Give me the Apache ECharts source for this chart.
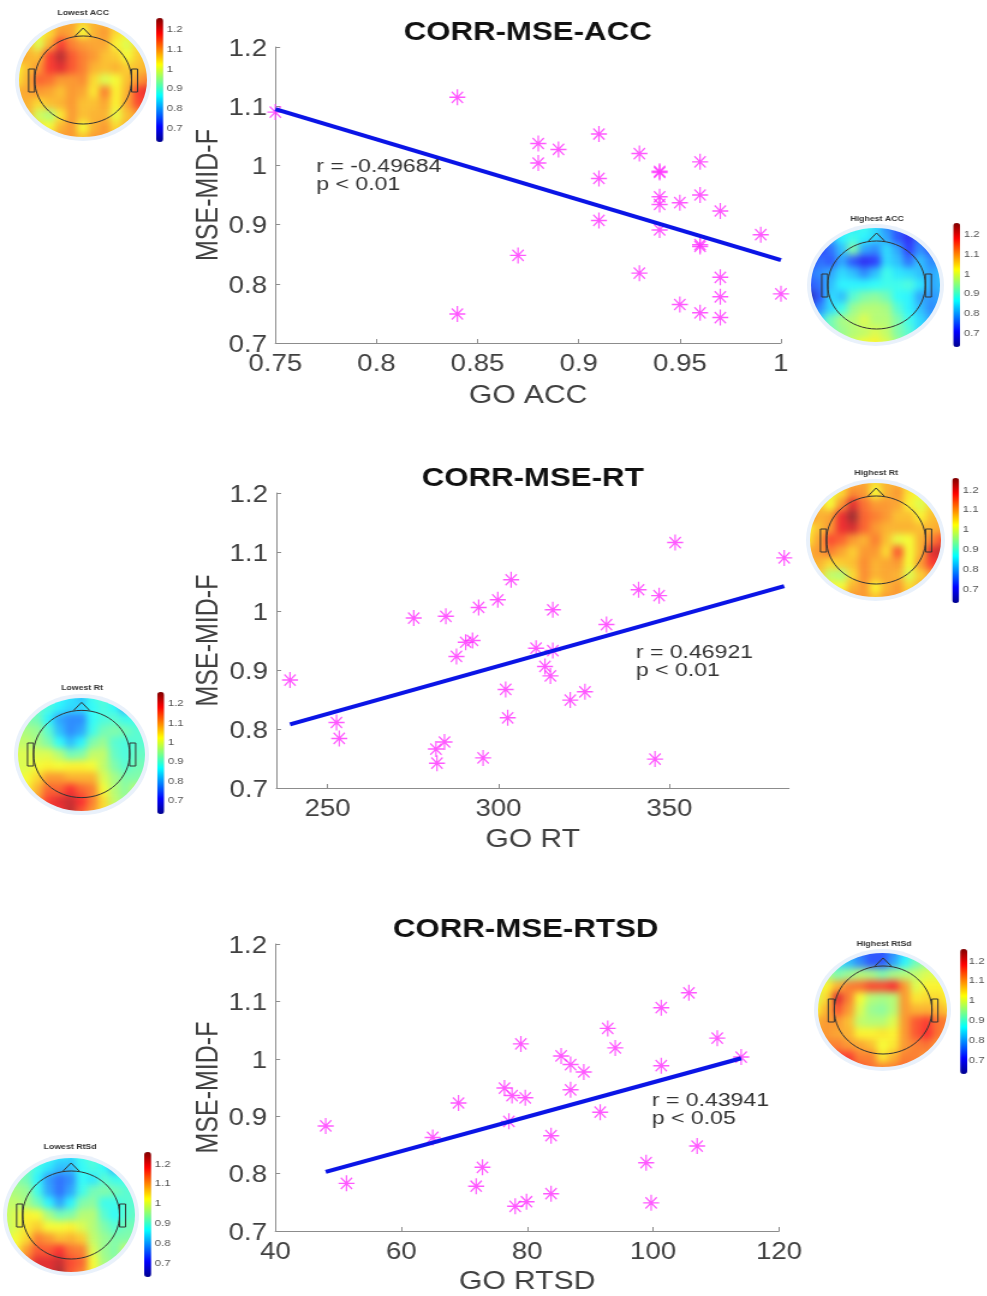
<!DOCTYPE html>
<html>
<head>
<meta charset="utf-8">
<script src="https://cdn.jsdelivr.net/npm/echarts@6/dist/echarts.min.js"></script>
<style>
  html, body { margin: 0; padding: 0; background: #fff; overflow: hidden; }
  body { width: 987px; height: 1296px; position: relative; }
  #main { position: absolute; left: 0; top: 0; height: 1296px; transform-origin: 0 0; z-index: 2; filter: blur(0.45px); }
  .halo { position: absolute; border-radius: 50%; background: #e9f1fb; z-index: 1; }
  .clip { position: absolute; left: 4px; top: 4px; right: 4px; bottom: 4px; border-radius: 50%; overflow: hidden; }
  .topo { position: absolute; left: -8px; top: -8px; right: -8px; bottom: -8px; filter: blur(3.5px); opacity: 0.8; }
</style>
</head>
<body>
<div id="main"></div>
<script>
// the reference is stretched sideways, so the chart canvas is too
const SX = 1.2
const px = x => x / SX

// same MSE values in all three panels
const accX = [0.75, 0.84, 0.88, 0.88, 0.89, 0.91, 0.91, 0.91, 0.87, 0.84, 0.93, 0.93, 0.94, 0.94, 0.94, 0.94, 0.94, 0.95, 0.95, 0.96, 0.96, 0.96, 0.96, 0.96, 0.97, 0.97, 0.97, 0.97, 0.99, 1.0]
const accY = [1.09, 1.115, 1.037, 1.004, 1.027, 1.053, 0.978, 0.907, 0.848, 0.749, 1.02, 0.818, 0.99, 0.988, 0.947, 0.934, 0.891, 0.937, 0.765, 1.006, 0.95, 0.866, 0.863, 0.751, 0.923, 0.811, 0.778, 0.743, 0.883, 0.783]
const accFitX = [0.75, 1.0]
const accFitY = [1.095, 0.84]

const rtX = [239, 252.6, 253.4, 275.2, 284.6, 287.7, 290.4, 292.4, 294.2, 295.5, 299.8, 303.7, 302.1, 302.7, 311, 313.6, 315.2, 315.9, 315.9, 321, 325.3, 331.6, 341, 345.8, 347, 351.7, 383.6, 281.7, 284.2, 282]
const rtY = [0.883, 0.811, 0.784, 0.988, 0.991, 0.923, 0.947, 0.95, 1.006, 0.751, 1.019, 1.053, 0.867, 0.819, 0.937, 0.906, 0.89, 0.933, 1.002, 0.849, 0.863, 0.977, 1.036, 0.749, 1.026, 1.116, 1.09, 0.766, 0.778, 0.742]
const rtFitX = [239, 383.6]
const rtFitY = [0.808, 1.042]

const rtsdX = [48, 51.3, 65, 69.1, 71.9, 72.9, 76.4, 77.1, 77.6, 78.1, 79, 79.7, 79.9, 83.8, 83.8, 85.4, 86.9, 86.9, 89, 91.6, 92.8, 94, 98.9, 99.7, 101.3, 101.3, 105.7, 107, 110.2, 114]
const rtsdY = [0.883, 0.783, 0.863, 0.923, 0.778, 0.811, 0.949, 0.891, 0.936, 0.743, 1.026, 0.932, 0.751, 0.866, 0.765, 1.005, 0.99, 0.946, 0.977, 0.907, 1.053, 1.019, 0.819, 0.749, 0.988, 1.089, 1.115, 0.848, 1.036, 1.003]
const rtsdFitX = [48, 114]
const rtsdFitY = [0.803, 1.001]

const accTicks = [0.75, 0.8, 0.85, 0.9, 0.95, 1]
const rtTicks = [250, 300, 350]
const rtsdTicks = [40, 60, 80, 100, 120]

// scalp maps, 13 columns by 11 rows, top row first
const lowestAcc = [
  [1.07,1.07,1.06,1.07,1.08,1.09,1.06,1.08,1.08,1.07,1.05,1.05,1.05],
  [1.08,1.07,1.02,1.05,1.10,1.09,1.02,1.08,1.10,1.05,1.03,1.05,1.06],
  [1.09,1.07,1.00,1.08,1.17,1.12,1.10,1.09,1.09,1.03,1.00,1.05,1.07],
  [1.12,1.08,1.07,1.17,1.23,1.15,1.12,1.10,1.07,1.06,1.02,1.06,1.08],
  [1.03,1.07,1.10,1.17,1.20,1.15,1.12,1.08,1.07,1.08,1.06,1.07,1.08],
  [1.04,1.08,1.14,1.13,1.10,1.10,1.11,1.05,1.00,1.02,1.07,1.10,1.12],
  [1.08,1.09,1.10,1.09,1.07,1.10,1.09,1.04,1.12,1.03,1.08,1.17,1.20],
  [1.09,1.08,1.05,1.07,1.08,1.10,1.07,1.07,1.09,1.03,1.09,1.16,1.17],
  [1.09,1.08,0.99,0.97,1.04,1.10,1.07,1.08,1.08,1.01,1.07,1.10,1.10],
  [1.08,1.08,1.04,1.02,1.08,1.10,1.02,1.08,1.10,1.05,1.08,1.08,1.08],
  [1.07,1.08,1.08,1.09,1.10,1.10,1.07,1.10,1.10,1.08,1.08,1.08,1.08]
]
const highestAcc = [
  [0.80,0.80,0.80,0.85,0.85,0.88,0.84,0.78,0.74,0.74,0.72,0.74,0.75],
  [0.74,0.74,0.80,0.86,0.88,0.86,0.84,0.80,0.74,0.70,0.76,0.72,0.74],
  [0.72,0.72,0.76,0.82,0.93,0.80,0.78,0.84,0.80,0.72,0.78,0.74,0.76],
  [0.72,0.76,0.74,0.80,0.74,0.70,0.72,0.84,0.82,0.76,0.82,0.78,0.78],
  [0.76,0.78,0.80,0.84,0.82,0.78,0.82,0.88,0.85,0.84,0.82,0.80,0.82],
  [0.74,0.76,0.82,0.86,0.86,0.86,0.87,0.88,0.88,0.89,0.85,0.80,0.82],
  [0.64,0.74,0.84,0.82,0.90,0.93,0.94,0.92,0.87,0.86,0.80,0.79,0.80],
  [0.72,0.78,0.84,0.88,0.95,0.97,0.97,0.96,0.90,0.86,0.82,0.78,0.80],
  [0.78,0.84,0.92,0.96,0.97,1.00,0.97,0.97,0.93,0.88,0.84,0.80,0.82],
  [0.82,0.86,0.92,0.95,0.97,0.98,1.00,0.98,0.93,0.90,0.84,0.84,0.84],
  [0.85,0.88,0.92,0.96,0.99,1.02,1.03,1.00,0.96,0.90,0.86,0.86,0.86]
]
const highestRt = [
  [1.06,1.07,1.06,1.07,1.08,1.09,1.05,1.08,1.08,1.06,1.05,1.05,1.05],
  [1.08,1.06,1.01,1.05,1.11,1.10,1.02,1.08,1.10,1.04,1.02,1.05,1.06],
  [1.12,1.07,1.02,1.10,1.20,1.13,1.10,1.10,1.09,1.03,1.00,1.05,1.07],
  [1.14,1.08,1.09,1.19,1.25,1.14,1.12,1.10,1.07,1.07,1.03,1.07,1.08],
  [1.03,1.07,1.10,1.19,1.21,1.14,1.10,1.08,1.08,1.08,1.07,1.08,1.09],
  [1.04,1.09,1.16,1.14,1.10,1.08,1.12,1.07,1.01,1.02,1.08,1.12,1.16],
  [1.08,1.10,1.12,1.09,1.06,1.10,1.10,1.05,1.15,1.02,1.08,1.20,1.23],
  [1.09,1.08,1.05,1.06,1.07,1.11,1.08,1.09,1.10,1.02,1.10,1.17,1.19],
  [1.09,1.06,0.98,0.97,1.05,1.11,1.08,1.09,1.08,1.00,1.06,1.10,1.11],
  [1.09,1.08,1.03,1.02,1.08,1.10,1.03,1.08,1.10,1.05,1.08,1.09,1.09],
  [1.08,1.09,1.09,1.10,1.11,1.10,1.07,1.10,1.10,1.08,1.09,1.09,1.09]
]
const lowestRt = [
  [0.92,0.92,0.91,0.90,0.87,0.85,0.82,0.88,0.90,0.88,0.85,0.88,0.90],
  [0.93,0.92,0.90,0.89,0.86,0.84,0.84,0.87,0.89,0.87,0.80,0.85,0.88],
  [0.95,0.93,0.92,0.86,0.80,0.78,0.78,0.87,0.89,0.90,0.88,0.88,0.90],
  [0.97,0.96,0.95,0.90,0.82,0.78,0.80,0.88,0.92,0.93,0.92,0.90,0.90],
  [0.98,0.98,0.96,0.93,0.87,0.82,0.86,0.93,0.95,0.90,0.89,0.90,0.90],
  [1.00,1.00,1.00,1.00,0.97,0.92,0.93,0.98,0.98,0.91,0.89,0.91,0.91],
  [1.00,1.00,1.02,1.03,1.02,1.03,1.03,1.02,0.98,0.93,0.90,0.92,0.92],
  [1.00,1.02,1.05,1.10,1.10,1.08,1.08,1.08,1.00,0.96,0.93,0.93,0.94],
  [1.00,1.03,1.08,1.14,1.14,1.18,1.14,1.12,1.02,0.97,0.94,0.98,1.00],
  [1.02,1.05,1.10,1.17,1.20,1.22,1.18,1.12,1.05,0.98,0.95,0.98,0.98],
  [1.05,1.08,1.12,1.20,1.18,1.23,1.15,1.10,1.05,1.00,0.97,0.97,0.97]
]
const highestRtsd = [
  [0.78,0.78,0.80,0.80,0.76,0.74,0.74,0.78,0.84,0.88,0.90,0.90,0.90],
  [0.90,0.88,0.84,0.82,0.78,0.74,0.74,0.80,0.86,0.92,0.95,0.97,0.97],
  [0.97,0.96,0.93,0.95,0.97,0.96,0.93,0.96,0.97,0.98,1.00,1.00,1.00],
  [1.00,1.03,1.08,1.12,1.13,1.16,1.16,1.18,1.10,1.00,1.03,1.03,1.02],
  [1.00,1.05,1.20,1.12,1.02,0.97,0.96,0.97,1.10,1.04,1.05,1.05,1.03],
  [1.03,1.08,1.15,1.10,1.00,0.95,0.94,0.97,1.10,1.08,1.08,1.08,1.06],
  [1.08,1.10,1.10,1.07,0.98,0.97,0.97,1.00,1.10,1.15,1.17,1.13,1.12],
  [1.10,1.10,1.09,1.08,1.03,1.03,1.04,1.03,1.10,1.15,1.18,1.13,1.10],
  [1.10,1.12,1.12,1.10,1.09,1.07,1.02,1.04,1.10,1.12,1.13,1.10,1.10],
  [1.12,1.14,1.17,1.17,1.12,1.12,1.04,1.08,1.12,1.12,1.10,1.10,1.10],
  [1.13,1.14,1.18,1.20,1.15,1.13,1.12,1.12,1.14,1.12,1.10,1.08,1.08]
]
const lowestRtsd = [
  [0.92,0.92,0.92,0.90,0.88,0.85,0.84,0.88,0.90,0.88,0.84,0.88,0.90],
  [0.93,0.92,0.91,0.88,0.85,0.82,0.82,0.87,0.89,0.87,0.80,0.85,0.88],
  [0.95,0.94,0.92,0.86,0.79,0.76,0.78,0.87,0.85,0.90,0.88,0.88,0.90],
  [0.97,0.96,0.95,0.88,0.80,0.76,0.80,0.88,0.92,0.93,0.92,0.90,0.90],
  [0.98,0.98,0.96,0.92,0.86,0.80,0.86,0.93,0.94,0.88,0.88,0.90,0.90],
  [0.98,1.00,1.03,1.02,0.96,0.92,0.93,0.97,0.97,0.90,0.87,0.90,0.91],
  [0.98,1.00,1.04,1.06,1.02,1.02,1.03,1.00,0.97,0.93,0.90,0.92,0.92],
  [0.98,1.02,1.05,1.12,1.10,1.07,1.08,1.06,0.98,0.95,0.93,0.93,0.94],
  [0.98,1.03,1.10,1.15,1.15,1.18,1.13,1.12,1.00,0.95,0.93,0.99,1.00],
  [1.00,1.05,1.13,1.20,1.20,1.22,1.16,1.14,1.02,0.96,0.94,0.97,0.98],
  [1.03,1.08,1.16,1.22,1.20,1.24,1.15,1.12,1.03,0.98,0.95,0.96,0.97]
]

const cbTicks = [0.7, 0.8, 0.9, 1, 1.1, 1.2]
const jet = ['#00008f', '#0000ff', '#0080ff', '#00ffff', '#80ff80', '#ffff00', '#ff8000', '#ff0000', '#800000']

const panels = [
  { title: 'CORR-MSE-ACC', xName: 'GO ACC', xs: accX, ys: accY, fx: accFitX, fy: accFitY, ticks: accTicks, min: 0.75, max: 1,
    note: ['r = -0.49684', 'p < 0.01'], noteX: 316, noteY: 167, left: 275, right: 780, top: 47, bottom: 343, titleX: 527, titleY: 30, nameGap: 41 },
  { title: 'CORR-MSE-RT', xName: 'GO RT', xs: rtX, ys: rtY, fx: rtFitX, fy: rtFitY, ticks: rtTicks, min: 235, max: 385,
    note: ['r = 0.46921', 'p < 0.01'], noteX: 635, noteY: 653, left: 276, right: 788, top: 493, bottom: 788, titleX: 532, titleY: 476, nameGap: 40 },
  { title: 'CORR-MSE-RTSD', xName: 'GO RTSD', xs: rtsdX, ys: rtsdY, fx: rtsdFitX, fy: rtsdFitY, ticks: rtsdTicks, min: 40, max: 120,
    note: ['r = 0.43941', 'p < 0.05'], noteX: 651, noteY: 1101, left: 275, right: 778, top: 944, bottom: 1232, titleX: 525, titleY: 927, nameGap: 39 }
]

const maps = [
  { name: 'Lowest ACC', values: lowestAcc, cx: 83, cy: 80, w: 128, h: 114, barX: 156, barTop: 18, barBottom: 142, titleX: 83, titleY: 12 },
  { name: 'Highest ACC', values: highestAcc, cx: 875.5, cy: 285, w: 129, h: 114, barX: 952, barTop: 223, barBottom: 347, titleX: 876, titleY: 218 },
  { name: 'Highest Rt', values: highestRt, cx: 875, cy: 540, w: 131, h: 114, barX: 951, barTop: 478, barBottom: 603, titleX: 875, titleY: 472 },
  { name: 'Lowest Rt', values: lowestRt, cx: 81.5, cy: 754, w: 127, h: 113, barX: 157, barTop: 692, barBottom: 814, titleX: 82, titleY: 687 },
  { name: 'Highest RtSd', values: highestRtsd, cx: 882, cy: 1010, w: 129, h: 114, barX: 959, barTop: 949, barBottom: 1074, titleX: 883, titleY: 943 },
  { name: 'Lowest RtSd', values: lowestRtsd, cx: 71, cy: 1215, w: 128, h: 114, barX: 144, barTop: 1152, barBottom: 1277, titleX: 70, titleY: 1146 }
]

const asterisk = 'path://M50 0V100M0 50H100M15 15L85 85M85 15L15 85'

function drawTopo(m) {
  const halo = document.createElement('div')
  halo.className = 'halo'
  halo.style.cssText = `left:${m.cx - m.w / 2 - 4}px;top:${m.cy - m.h / 2 - 4}px;width:${m.w + 8}px;height:${m.h + 8}px`
  halo.innerHTML = '<div class="clip"><div class="topo"></div></div>'
  document.body.appendChild(halo)
  const chart = echarts.init(halo.querySelector('.topo'), null, { width: m.w + 16, height: m.h + 16 })
  const data = []
  m.values.forEach((row, j) => row.forEach((v, i) => data.push([i, m.values.length - 1 - j, v])))
  chart.setOption({
    animation: false,
    grid: { left: 0, right: 0, top: 0, bottom: 0 },
    xAxis: { type: 'category', show: false, data: m.values[0].map((_, i) => i) },
    yAxis: { type: 'category', show: false, data: m.values.map((_, i) => i) },
    visualMap: { show: false, min: 0.63, max: 1.26, inRange: { color: jet } },
    series: [{ type: 'heatmap', data: data }]
  })
}
maps.forEach(drawTopo)

document.getElementById('main').style.width = (987 / SX) + 'px'
document.getElementById('main').style.transform = `scaleX(${SX})`
const chart = echarts.init(document.getElementById('main'), null, { width: 987 / SX, height: 1296 })

const grids = [], xAxes = [], yAxes = [], series = [], titles = [], graphics = [], visuals = []

panels.forEach((p, i) => {
  grids.push({ left: px(p.left), width: px(p.right - p.left), top: p.top, height: p.bottom - p.top })
  xAxes.push({
    type: 'value', gridIndex: i, min: p.min, max: p.max, splitLine: { show: false },
    name: p.xName, nameLocation: 'middle', nameGap: p.nameGap, nameMoveOverlap: false,
    nameTextStyle: { fontFamily: 'Liberation Sans', fontSize: 25, color: '#404040' },
    axisLine: { show: true, onZero: false, lineStyle: { color: '#8c8c8c', width: 1 } },
    axisTick: { show: true, inside: true, length: 4, customValues: p.ticks, lineStyle: { color: '#8c8c8c' } },
    axisLabel: { customValues: p.ticks, margin: 10.5, fontFamily: 'Liberation Sans', fontSize: 23, color: '#404040', hideOverlap: false,
      formatter: v => String(v) }
  })
  yAxes.push({
    type: 'value', gridIndex: i, min: 0.7, max: 1.2, interval: 0.1, splitLine: { show: false },
    name: 'MSE-MID-F', nameLocation: 'middle', nameGap: 43, nameMoveOverlap: false,
    nameTextStyle: { fontFamily: 'Liberation Sans', fontSize: 25, color: '#404040' },
    axisLine: { show: true, onZero: false, lineStyle: { color: '#8c8c8c', width: 1 } },
    axisTick: { show: true, inside: true, length: 4, lineStyle: { color: '#8c8c8c' } },
    axisLabel: { margin: 7,
      formatter: v => '{v|' + Math.round(v * 10) / 10 + '}',
      rich: { v: { padding: [5, 0, 0, 0], fontFamily: 'Liberation Sans', fontSize: 23, color: '#404040' } } }
  })
  series.push({
    type: 'scatter', xAxisIndex: i, yAxisIndex: i, clip: false, z: 3,
    symbol: asterisk, symbolSize: [16 / SX, 16], silent: true,
    itemStyle: { color: 'none', borderColor: '#ff30ff', borderWidth: 1.3 },
    data: p.xs.map((x, k) => [x, p.ys[k]])
  })
  series.push({
    type: 'line', xAxisIndex: i, yAxisIndex: i, clip: false, z: 4, symbol: 'none', silent: true,
    lineStyle: { color: '#0a14e6', width: 4 },
    data: p.fx.map((x, k) => [x, p.fy[k]])
  })
  titles.push({
    text: p.title, left: px(p.titleX), top: p.titleY - 10, textAlign: 'center', padding: 0,
    textStyle: { fontFamily: 'Liberation Sans', fontSize: 26, fontWeight: 'bold', color: '#111' }
  })
  p.note.forEach((t, k) => graphics.push({
    type: 'text', x: px(p.noteX), y: p.noteY + k * 18, z: 10,
    style: { text: t, fontFamily: 'Liberation Sans', fontSize: 19.2, fill: '#333', verticalAlign: 'middle' }
  }))
})

maps.forEach((m, i) => {
  const g = panels.length + i
  const barW = 7
  grids.push({ left: px(m.barX), width: px(barW), top: m.barTop, height: m.barBottom - m.barTop })
  xAxes.push({ type: 'value', gridIndex: g, show: false, min: 0, max: 1 })
  yAxes.push({
    type: 'value', gridIndex: g, position: 'right', min: 0.63, max: 1.26, splitLine: { show: false },
    axisLine: { show: false }, axisTick: { show: false },
    axisLabel: { customValues: cbTicks, margin: 3, fontFamily: 'Liberation Sans', fontSize: 9.5, color: '#555',
      formatter: v => String(Math.round(v * 10) / 10) }
  })
  visuals.push({
    type: 'continuous', seriesIndex: [], min: 0.63, max: 1.26, inRange: { color: jet },
    left: px(m.barX), top: m.barTop, itemWidth: px(barW), itemHeight: m.barBottom - m.barTop,
    padding: 0, text: ['', ''], calculable: false, showLabel: false
  })
  titles.push({
    text: m.name, left: px(m.titleX), top: m.titleY - 3, textAlign: 'center', padding: 0,
    textStyle: { fontFamily: 'Liberation Sans', fontSize: 7.3, fontWeight: 'bold', color: '#333' }
  })
  // head outline over the map
  const stroke = { stroke: '#333', lineWidth: 1, fill: 'none' }
  const rx = m.w * 0.378, ry = m.h * 0.386
  graphics.push(
    { type: 'ellipse', z: 5, shape: { cx: px(m.cx), cy: m.cy, rx: px(rx), ry: ry }, style: stroke },
    { type: 'rect', z: 5, shape: { x: px(m.cx - rx - 6), y: m.cy - 11, width: px(6), height: 23 }, style: stroke },
    { type: 'rect', z: 5, shape: { x: px(m.cx + rx), y: m.cy - 11, width: px(6), height: 23 }, style: stroke },
    { type: 'polyline', z: 5, shape: { points: [[px(m.cx - 8), m.cy - ry], [px(m.cx), m.cy - ry - 8], [px(m.cx + 8), m.cy - ry]] }, style: stroke }
  )
})

chart.setOption({
  animation: false,
  title: titles,
  grid: grids,
  xAxis: xAxes,
  yAxis: yAxes,
  visualMap: visuals,
  series: series,
  graphic: { elements: graphics }
})
</script>
</body>
</html>
